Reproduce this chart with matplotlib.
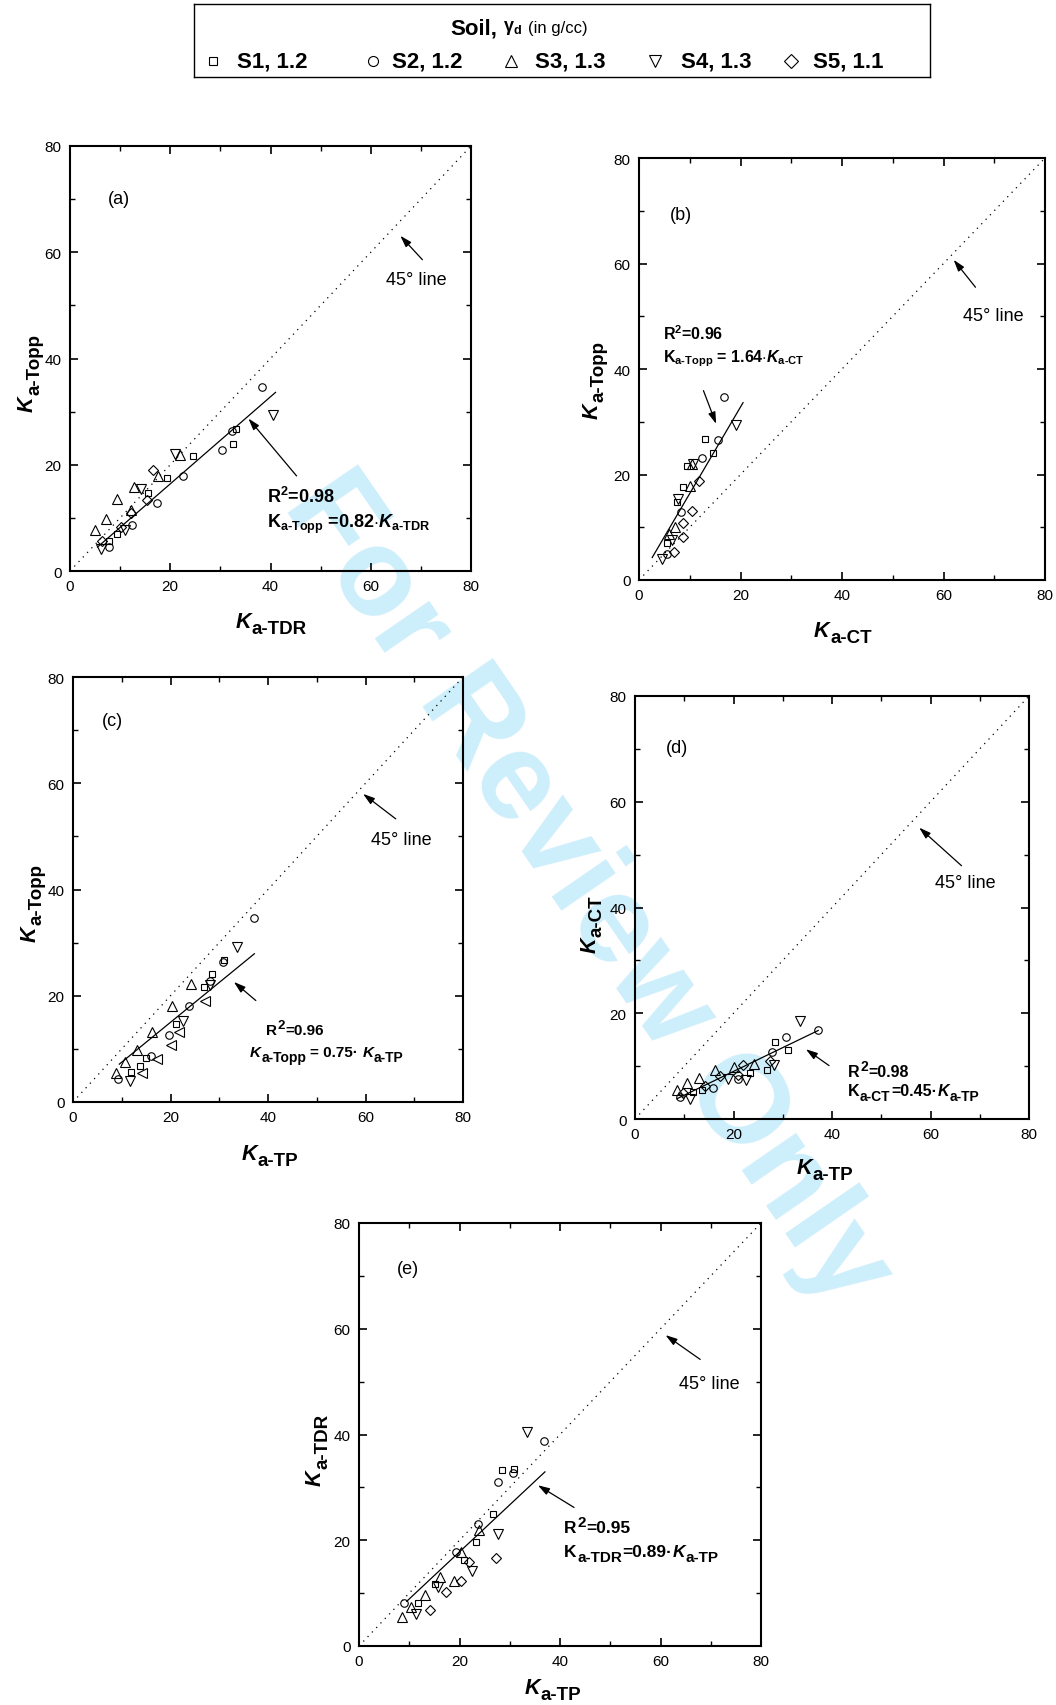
import matplotlib
matplotlib.use('Agg')
import numpy as np
import matplotlib.pyplot as plt
from matplotlib.ticker import MultipleLocator

plt.rcParams['font.family'] = ['Liberation Sans', 'DejaVu Sans']
plt.rcParams['mathtext.fontset'] = 'custom'
plt.rcParams['mathtext.rm'] = 'Liberation Sans:bold'
plt.rcParams['mathtext.bf'] = 'Liberation Sans:bold'
plt.rcParams['mathtext.it'] = 'Liberation Sans:italic:bold'

# ---- data: [x values], [y values] per soil ----
# (a) Ka-TDR vs Ka-Topp
A_S1 = [[33.1, 32.6, 24.5, 19.3, 15.6, 9.3, 7.8], [26.7, 24.0, 21.6, 17.5, 14.7, 7.0, 5.7]]
A_S2 = [[38.3, 32.3, 30.4, 22.6, 17.3, 12.3, 7.7], [34.6, 26.4, 22.8, 17.9, 12.8, 8.7, 4.6]]
A_S3 = [[22.0, 17.6, 12.8, 9.4, 7.1, 5.0, 12.2], [21.8, 17.8, 15.9, 13.6, 9.8, 7.8, 11.4]]
A_S4 = [[40.4, 21.0, 14.2, 11.0, 6.1], [29.3, 22.0, 15.4, 7.7, 4.1]]
A_S5 = [[16.5, 15.4, 12.2, 10.2, 6.3], [19.0, 13.4, 11.0, 8.2, 5.7]]
# (b) Ka-CT vs Ka-Topp
B_S1 = [[13.1, 14.5, 9.4, 8.6, 7.4, 5.6], [26.7, 24.1, 21.7, 17.6, 14.8, 7.0]]
B_S2 = [[16.8, 15.6, 12.5, 8.2, 5.5], [34.6, 26.5, 23.1, 12.8, 5.0]]
B_S3 = [[10.4, 10.0, 7.0, 6.0], [22.0, 17.9, 10.0, 8.7]]
B_S4 = [[19.1, 10.7, 7.7, 6.5, 4.5], [29.3, 22.0, 15.4, 7.5, 4.0]]
B_S5 = [[11.9, 10.4, 8.7, 8.7, 6.8], [18.8, 13.1, 10.9, 8.1, 5.4]]
# (c) Ka-TP vs Ka-Topp
C_S1 = [[31.0, 28.6, 26.9, 21.1, 14.9, 13.7, 11.9], [26.7, 24.1, 21.6, 14.7, 8.3, 6.8, 5.6]]
C_S2 = [[37.1, 30.8, 28.0, 23.8, 19.6, 16.0, 9.2], [34.6, 26.4, 22.7, 18.0, 12.7, 8.7, 4.3]]
C_S3 = [[24.2, 20.4, 16.3, 13.1, 10.7, 8.8], [22.2, 18.0, 13.2, 9.8, 7.5, 5.5]]
C_S4 = [[33.6, 28.0, 22.6, 11.6], [29.2, 22.0, 15.3, 4.0]]
C_S5 = [[27.1, 21.8, 20.0, 17.3, 14.1], [19.0, 13.2, 10.8, 8.1, 5.5]]
# (d) Ka-TP vs Ka-CT
D_S1 = [[28.4, 31.0, 26.9, 23.4, 13.7, 11.8], [14.5, 13.1, 9.3, 8.7, 5.5, 5.2]]
D_S2 = [[37.2, 30.6, 27.9, 21.0, 15.8, 9.1], [16.8, 15.6, 12.6, 7.6, 5.8, 4.1]]
D_S3 = [[24.2, 20.2, 16.2, 12.9, 10.5, 8.6], [10.4, 9.8, 9.3, 7.7, 6.9, 5.5]]
D_S4 = [[33.6, 28.2, 22.5, 18.9, 11.2], [18.5, 10.2, 7.4, 7.6, 3.8]]
D_S5 = [[27.4, 22.0, 20.9, 17.3, 14.2, 9.8], [11.0, 10.2, 8.4, 8.2, 6.3, 5.0]]
# (e) Ka-TP vs Ka-TDR
E_S1 = [[28.4, 30.9, 26.7, 23.2, 20.9, 15.1, 11.8], [33.3, 33.5, 25.0, 19.7, 16.3, 11.7, 8.2]]
E_S2 = [[36.9, 30.6, 27.7, 23.7, 19.3, 9.0], [38.7, 32.7, 31.0, 23.1, 17.8, 8.1]]
E_S3 = [[23.9, 20.3, 16.1, 19.0, 13.1, 10.3, 8.5], [21.9, 17.8, 13.0, 12.3, 9.6, 7.3, 5.4]]
E_S4 = [[33.4, 27.7, 22.4, 15.7, 11.3], [40.4, 21.2, 14.2, 11.1, 6.1]]
E_S5 = [[27.2, 21.8, 20.3, 17.3, 14.1], [16.7, 15.9, 12.3, 10.2, 6.8]]

# regression slopes and x-range of the fitted lines
SLOPES = [0.82, 1.64, 0.75, 0.45, 0.89]
FIT_X = [[5.5, 41.0], [2.6, 20.5], [9.5, 37.2], [8.5, 37.2], [9.5, 37.0]]
R2 = ['0.98', '0.96', '0.96', '0.98', '0.95']

SOIL_LABELS = ['S1, 1.2', 'S2, 1.2', 'S3, 1.3', 'S4, 1.3', 'S5, 1.1']
MARKERS = ['s', 'o', '^', 'v', 'D']
MSIZE = {'s': 4.6, 'o': 5.4, '^': 7.4, 'v': 7.4, '<': 7.4, 'D': 5.2}

W, H = 1056, 1706
fig = plt.figure(figsize=(W / 100, H / 100), dpi=100)
renderer = fig.canvas.get_renderer()


def rect(l, t, r, b):
    return [l / W, 1 - b / H, (r - l) / W, (b - t) / H]


def fx(x):
    return x / W


def fy(y):
    return 1 - y / H


def rich(x, y, parts, rot=False, center=False):
    # parts: (text, size, style, shift px, gap px before); x, y in pixels from top-left
    texts, widths = [], []
    for s, size, style, shift, gap in parts:
        t = fig.text(0, 0, s, fontsize=size, fontstyle=style, fontweight='bold',
                     ha='left', va='baseline', rotation=90 if rot else 0,
                     rotation_mode='anchor')
        bb = t.get_window_extent(renderer)
        texts.append(t)
        widths.append((bb.height if rot else bb.width) + gap)
    total = sum(widths)
    if rot:
        pos = y + total / 2 if center else y
    else:
        pos = x - total / 2 if center else x
    for t, w, (s, size, style, shift, gap) in zip(texts, widths, parts):
        if rot:
            pos -= gap
            t.set_position((fx(x + shift), fy(pos)))
            pos -= w - gap
        else:
            pos += gap
            t.set_position((fx(pos), fy(y + shift)))
            pos += w - gap


def axis_label(x, y, sub, rot=False):
    rich(x, y, [('K', 15.5, 'italic', 0, 0), ('a-' + sub, 13.5, 'normal', 6, 1)],
         rot=rot, center=True)


def make_axes(box):
    ax = fig.add_axes(rect(*box))
    ax.set_facecolor('none')
    ax.set_xlim(0, 80)
    ax.set_ylim(0, 80)
    ax.xaxis.set_major_locator(MultipleLocator(20))
    ax.yaxis.set_major_locator(MultipleLocator(20))
    ax.xaxis.set_minor_locator(MultipleLocator(10))
    ax.yaxis.set_minor_locator(MultipleLocator(10))
    ax.tick_params(which='both', direction='in', top=True, right=True,
                   labelsize=11, pad=6)
    ax.tick_params(which='major', length=6, width=1.2)
    ax.tick_params(which='minor', length=3.5, width=1.0)
    for s in ax.spines.values():
        s.set_linewidth(1.5)
    # 45 degree line
    ax.plot([0, 80], [0, 80], color='k', lw=0.9, ls=(0, (1, 4)))
    return ax


def arrow(ax, head, tail):
    ax.annotate('', xy=head, xytext=tail,
                arrowprops=dict(arrowstyle='-|>,head_length=0.7,head_width=0.22',
                                color='k', lw=0.9, shrinkA=0, shrinkB=0,
                                mutation_scale=10))


panels = [
    dict(box=(70, 147, 471, 572), soils=[A_S1, A_S2, A_S3, A_S4, A_S5], tag='(a)', tag_xy=(9.7, 70.2),
         l45=(63.1, 54.9), a45=((65.9, 63.1), (70.3, 58.6)), afit=((35.6, 28.7), (45.2, 17.9)),
         xlab=('TDR', 271, 628), ylab=('Topp', 33, 373)),
    dict(box=(639, 159, 1045, 581), soils=[B_S1, B_S2, B_S3, B_S4, B_S5], tag='(b)', tag_xy=(8.3, 69.2),
         l45=(63.9, 50.1), a45=((62.0, 60.7), (66.3, 55.5)), afit=((15.2, 29.6), (12.7, 35.9)),
         xlab=('CT', 843, 637), ylab=('Topp', 598, 380)),
    dict(box=(73, 678, 463, 1103), soils=[C_S1, C_S2, C_S3, C_S4, C_S5], tag='(c)', tag_xy=(8.0, 71.9),
         l45=(61.1, 49.4), a45=((59.5, 58.0), (66.2, 53.3)), afit=((33.0, 22.6), (37.5, 19.1)),
         xlab=('TP', 270, 1160), ylab=('Topp', 36, 903)),
    dict(box=(635, 697, 1029, 1120), soils=[D_S1, D_S2, D_S3, D_S4, D_S5], tag='(d)', tag_xy=(8.6, 70.2),
         l45=(61.0, 44.8), a45=((57.7, 55.1), (66.3, 47.9)), afit=((34.7, 13.2), (39.4, 10.1)),
         xlab=('TP', 825, 1174), ylab=('CT', 596, 924)),
    dict(box=(359, 1224, 761, 1647), soils=[E_S1, E_S2, E_S3, E_S4, E_S5], tag='(e)', tag_xy=(9.7, 71.4),
         l45=(63.6, 49.7), a45=((61.0, 58.8), (67.9, 54.2)), afit=((35.6, 30.4), (42.8, 26.2)),
         xlab=('TP', 553, 1694), ylab=('TDR', 321, 1450)),
]

for i, p in enumerate(panels):
    ax = make_axes(p['box'])
    for j, (xs, ys) in enumerate(p['soils']):
        m = MARKERS[j]
        if i == 2 and j == 4:
            m = '<'
        ax.plot(xs, ys, ls='none', marker=m, ms=MSIZE[m], mfc='none', mec='k', mew=0.8)
    fxs = np.array(FIT_X[i])
    ax.plot(fxs, SLOPES[i] * fxs, color='k', lw=0.9)
    ax.text(*p['tag_xy'], p['tag'], fontsize=13, ha='center', va='center')
    ax.text(*p['l45'], '45° line', fontsize=13, ha='left', va='center')
    arrow(ax, *p['a45'])
    arrow(ax, *p['afit'])
    sub, x, y = p['xlab']
    axis_label(x, y, sub)
    sub, x, y = p['ylab']
    axis_label(x, y, sub, rot=True)

# regression annotations
ax_a, ax_b = fig.axes[0], fig.axes[1]
ax_a.text(39.3, 12.9, r'R$^2$=' + R2[0], fontsize=13, fontweight='bold', va='baseline')
ax_a.text(39.3, 8.3, r'$\mathrm{K}_{\text{a-Topp}}$ =%.2f$\cdot\mathit{K}_{\text{a-TDR}}$' % SLOPES[0],
          fontsize=13, fontweight='bold', va='baseline')
ax_b.text(4.8, 45.7, r'R$^2$=' + R2[1], fontsize=11.5, fontweight='bold', va='baseline')
ax_b.text(4.8, 41.5, r'$\mathrm{K}_{\text{a-Topp}}$ = %.2f$\cdot\mathit{K}_{\text{a-CT}}$' % SLOPES[1],
          fontsize=11.5, fontweight='bold', va='baseline')


def r2_line(x, y, val, fs):
    rich(x, y, [('R', fs, 'normal', 0, 0), ('2', fs - 1.5, 'normal', -6, 0.5),
                ('=' + val, fs, 'normal', 0, 0.5)])


r2_line(266, 1035, R2[2], 11)
rich(250, 1057, [('K', 11, 'italic', 0, 0), ('a-Topp', 10, 'normal', 5, 0.5),
                 ('= %.2f\u00b7' % SLOPES[2], 11, 'normal', 0, 4),
                 ('K', 11, 'italic', 0, 4), ('a-TP', 10, 'normal', 5, 0.5)])
r2_line(848, 1077, R2[3], 11.5)
rich(848, 1096, [('K', 11.5, 'normal', 0, 0), ('a-CT', 10, 'normal', 5, 0.5),
                 ('=%.2f\u00b7' % SLOPES[3], 11.5, 'normal', 0, 0.5),
                 ('K', 11.5, 'italic', 0, 0.5), ('a-TP', 10, 'normal', 5, 0.5)])
r2_line(564, 1533, R2[4], 12.5)
rich(564, 1557, [('K', 12.5, 'normal', 0, 0), ('a-TDR', 11, 'normal', 5, 0.5),
                 ('=%.2f\u00b7' % SLOPES[4], 12.5, 'normal', 0, 0.5),
                 ('K', 12.5, 'italic', 0, 0.5), ('a-TP', 11, 'normal', 5, 0.5)])

# legend box at the top
lax = fig.add_axes(rect(194, 5, 930, 78))
lax.set_xlim(0, 736)
lax.set_ylim(73, 0)
lax.set_xticks([])
lax.set_yticks([])
for s in lax.spines.values():
    s.set_linewidth(1.0)
mark_x = [19, 179, 317, 461, 597]
text_x = [43, 198, 341, 487, 619]
for j in range(5):
    m = MARKERS[j]
    lax.plot([mark_x[j]], [57], ls='none', marker=m, ms=MSIZE[m] + 1.8, mfc='none', mec='k', mew=0.8)
    lax.text(text_x[j], 57, SOIL_LABELS[j], fontsize=16, fontweight='bold', ha='left', va='center')
lax.text(256, 24, 'Soil,', fontsize=16, fontweight='bold', ha='left', va='center')
lax.text(309, 23, r'$\mathrm{\gamma}_{\mathrm{d}}$', fontsize=13, ha='left', va='center')
lax.text(334, 24, '(in g/cc)', fontsize=12, ha='left', va='center')

# watermark
fig.text(fx(587), fy(890), 'For Review Only', rotation=-55.4, fontsize=90,
         fontweight='bold', color='#cdeefb', ha='center', va='center', zorder=-1)

fig.savefig('out.png', dpi=100)
